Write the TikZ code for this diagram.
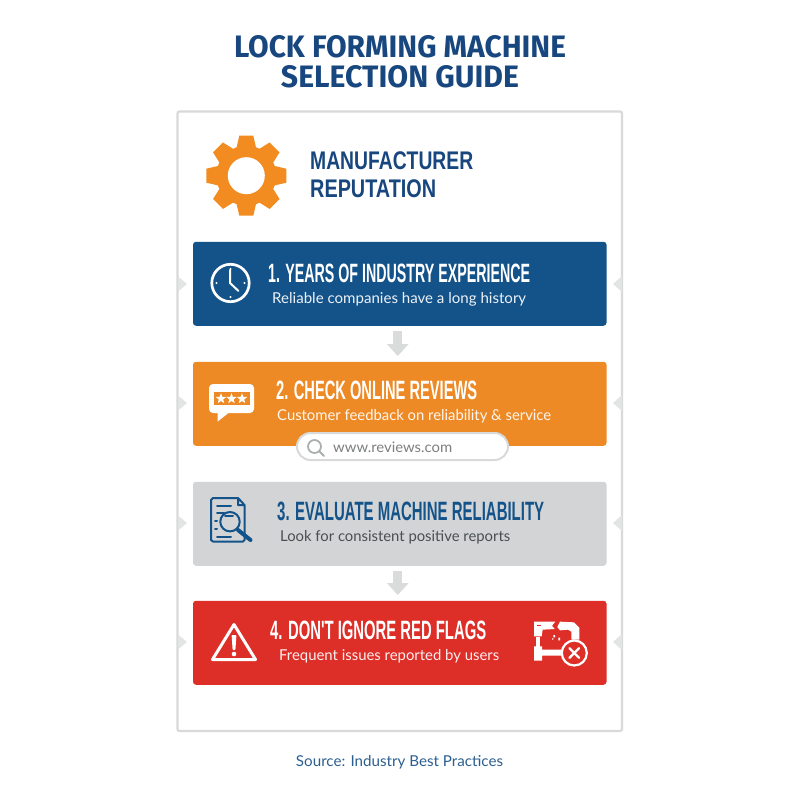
\documentclass[tikz,border=0pt]{standalone}
\usepackage{fontspec}
\usepackage{graphicx}
\usetikzlibrary{arrows.meta,shapes.geometric}
\setmainfont{Lato}
\newfontfamily\headfont{Liberation Sans}[BoldFont={Liberation Sans Bold}]
\newfontfamily\titlefont{Fira Sans}
\newcommand{\fitw}[2]{\resizebox{#1pt}{\height}{#2}}
\definecolor{navy}{HTML}{17477E}
\definecolor{cardblue}{HTML}{14538A}
\definecolor{cardorange}{HTML}{EE8A25}
\definecolor{cardgray}{HTML}{D2D4D5}
\definecolor{cardred}{HTML}{DD2E28}
\definecolor{gearorange}{HTML}{F28C20}
\definecolor{framegray}{HTML}{D8DADA}
\definecolor{arrowgray}{HTML}{DADCDC}
\definecolor{tickgray}{HTML}{E3E5E5}
\definecolor{subdark}{HTML}{4A4F53}
\definecolor{srcblue}{HTML}{2C5F91}
\definecolor{urlgray}{HTML}{7C7F80}
\definecolor{glassgray}{HTML}{A9ADAE}
\tikzset{
  txt/.style={inner sep=0pt,anchor=base west,align=left},
  titletxt/.style={inner sep=0pt,anchor=base,text=navy,font=\titlefont\bfseries\fontsize{31}{31}\selectfont},
  sechead/.style={txt,text=navy,font=\headfont\bfseries\fontsize{25.5}{26}\selectfont},
  cardhead/.style={txt,font=\headfont\bfseries\fontsize{26.5}{27}\selectfont},
  cardsub/.style={txt,font=\fontsize{15}{15}\selectfont},
  card/.style={rounded corners=3pt,minimum width=413.5pt,minimum height=84pt,inner sep=0pt},
  flow/.style={draw=arrowgray,line width=9pt,-{Triangle[width=21pt,length=12pt]}},
  tick/.style={fill=tickgray},
  whiteline/.style={draw=white,line width=2.7pt,line cap=round,line join=round},
  blueline/.style={draw=cardblue,line width=2pt,line cap=round,line join=round}
}
\begin{document}
\begin{tikzpicture}[x=1pt,y=-1pt]
\useasboundingbox (0,0) rectangle (800,800);
\fill[white] (0,0) rectangle (800,800);

% title
\node[titletxt] (t1) at (400,58) {\fitw{332}{LOCK FORMING MACHINE}};
\node[titletxt] (t2) at (400,87) {\fitw{238}{SELECTION GUIDE}};

% frame
\node[draw=framegray,line width=2.2pt,rounded corners=2pt,minimum width=444.5pt,minimum height=619.5pt,inner sep=0pt] (frame) at (399.75,421.25) {};

% side ticks
\foreach \yy in {284,403,523,642}{
  \fill[tick] (178,\yy-7.5) -- (187,\yy) -- (178,\yy+7.5) -- cycle;
  \fill[tick] (622,\yy-8) -- (613,\yy) -- (622,\yy+8) -- cycle;
}

% gear
\begin{scope}[shift={(246.3,175.7)}]
  \fill[gearorange] (0,0) circle (30);
  \foreach \a in {0,45,...,315}{
    \fill[gearorange,rotate=\a] (27,-10) -- (40,-7) -- (40,7) -- (27,10) -- cycle;
  }
  \fill[white] (0,0) circle (18.5);
\end{scope}
\node[sechead] (s1) at (310,169) {\fitw{163}{MANUFACTURER}};
\node[sechead] (s2) at (310,197) {\fitw{126}{REPUTATION}};

% cards
\node[card,fill=cardblue] (b1) at (399.75,283.75) {};
\node[card,fill=cardorange] (b2) at (399.75,403.75) {};
\node[card,fill=cardgray] (b3) at (399.75,523.75) {};
\node[card,fill=cardred] (b4) at (399.75,642.75) {};

% flow arrows
\draw[flow] ([xshift=-2pt,yshift=-5.5pt]b1.south) -- ([xshift=-2pt,yshift=5.5pt]b2.north);
\draw[flow] ([xshift=-2pt,yshift=-5.5pt]b3.south) -- ([xshift=-2pt,yshift=5.5pt]b4.north);

% card 1
\draw[whiteline] (230.5,283) circle (18.7);
\draw[draw=white,line width=2pt,line cap=round,line join=round] (230,270) -- (230,283) -- (238.5,291);
\foreach \p in {(230.5,269),(230.5,297),(216.5,283),(244.5,283)}{\fill[white] \p circle (1.1);}
\node[cardhead,text=white] (h1) at (268,282) {\fitw{262}{1. YEARS OF INDUSTRY EXPERIENCE}};
\node[cardsub,text=white!92!cardblue] (d1) at (272,303) {\fitw{254}{Reliable companies have a long history}};

% card 2
\fill[white,rounded corners=4pt] (209,384) rectangle (254,413);
\fill[white] (217.5,410) -- (217.7,421.5) -- (231,411) -- cycle;
\fill[cardorange] (213.5,392) rectangle (249.5,405);
\foreach \xx in {221,231.5,242}{
  \node[star,star points=5,star point ratio=2.4,fill=white,inner sep=0pt,minimum size=11pt] (st\xx) at (\xx,398.7) {};
}
\node[cardhead,text=white] (h2) at (276,399) {\fitw{201}{2. CHECK ONLINE REVIEWS}};
\node[cardsub,text=white!92!cardorange] (d2) at (277,420) {\fitw{274}{Customer feedback on reliability \& service}};

% search bar
\node[draw=framegray,fill=white,line width=2pt,rounded corners=13.5pt,minimum width=211pt,minimum height=27pt,inner sep=0pt] (bar) at (402.5,446.5) {};
\draw[draw=glassgray,line width=1.7pt] (314.5,446.5) circle (6.5);
\draw[draw=glassgray,line width=2pt,line cap=round] (319.5,451.5) -- (324,456);
\node[txt,text=urlgray,font=\fontsize{14.5}{15}\selectfont] (url) at (333,452.5) {\fitw{119}{www.reviews.com}};

% card 3
\draw[blueline] (238,498) -- (213,498) -- (211,500) -- (211,540) -- (213,541.5) -- (243,541.5) -- (244.5,540) -- (244.5,505) -- (238,498) -- (238,505) -- (244.5,505);
\draw[blueline] (217,506) -- (231,506) (217,513) -- (224,513) (215,521) -- (217,521) (215,529) -- (217,529) (217,537) -- (231,537);
\fill[cardgray] (230,521.7) circle (10);
\draw[blueline] (230,521.7) circle (9.7);
\draw[blueline] (225,516) -- (233,516);
\draw[draw=cardblue,line width=4pt,line cap=round] (238,530) -- (250.5,540);
\node[cardhead,text=cardblue] (h3) at (277,520.5) {\fitw{267}{3. EVALUATE MACHINE RELIABILITY}};
\node[cardsub,text=subdark] (d3) at (280,541) {\fitw{230}{Look for consistent positive reports}};

% card 4
\draw[draw=white,line width=3pt,line join=round] (234,624.5) -- (255.5,659.5) -- (212.5,659.5) -- cycle;
\fill[white,rounded corners=0.8pt] (231.6,635) -- (236.4,635) -- (235.4,650) -- (232.6,650) -- cycle;
\fill[white] (234,654) circle (2.3);
\node[cardhead,text=white] (h4) at (270,639) {\fitw{216}{4. DON'T IGNORE RED FLAGS}};
\node[cardsub,text=white!92!cardred] (d4) at (279,660) {\fitw{220}{Frequent issues reported by users}};

% broken machine icon
\begin{scope}[shift={(510,605)},x=0.3333pt,y=-0.3333pt]
  \fill[white] (72,50) -- (136,50) -- (126,62) -- (134,72) -- (98,74) -- (95,94) -- (72,94) -- cycle;
  \fill[white] (78,95) rectangle (90,125);
  \fill[white] (72,124) -- (96,124) -- (96,134) -- (170,134) -- (170,152) -- (96,152) -- (96,167) -- (72,167) -- cycle;
  \fill[white] (150,50) -- (192,52) -- (208,68) -- (208,104) -- (184,104) -- (184,80) -- (174,74) -- (150,76) -- (142,66) -- cycle;
  \fill[white] (130,90) rectangle (135,97) (145,98) rectangle (150,106) (126,100) rectangle (130,104);
  \fill[cardred] (80,60) rectangle (92,64);
  \draw[draw=white,fill=cardred,line width=2.2pt,x=1pt,y=-1pt] (574.3-510,653-605) circle (12.5);
  \draw[draw=white,line width=2.4pt,line cap=round,x=1pt,y=-1pt] (569.5-510,648.2-605) -- (579-510,657.8-605) (579-510,648.2-605) -- (569.5-510,657.8-605);
\end{scope}

% source
\node[txt,anchor=base,text=srcblue,font=\fontsize{15}{15}\selectfont] (src) at (399.5,766) {\fitw{207}{Source: Industry Best Practices}};
\end{tikzpicture}
\end{document}
